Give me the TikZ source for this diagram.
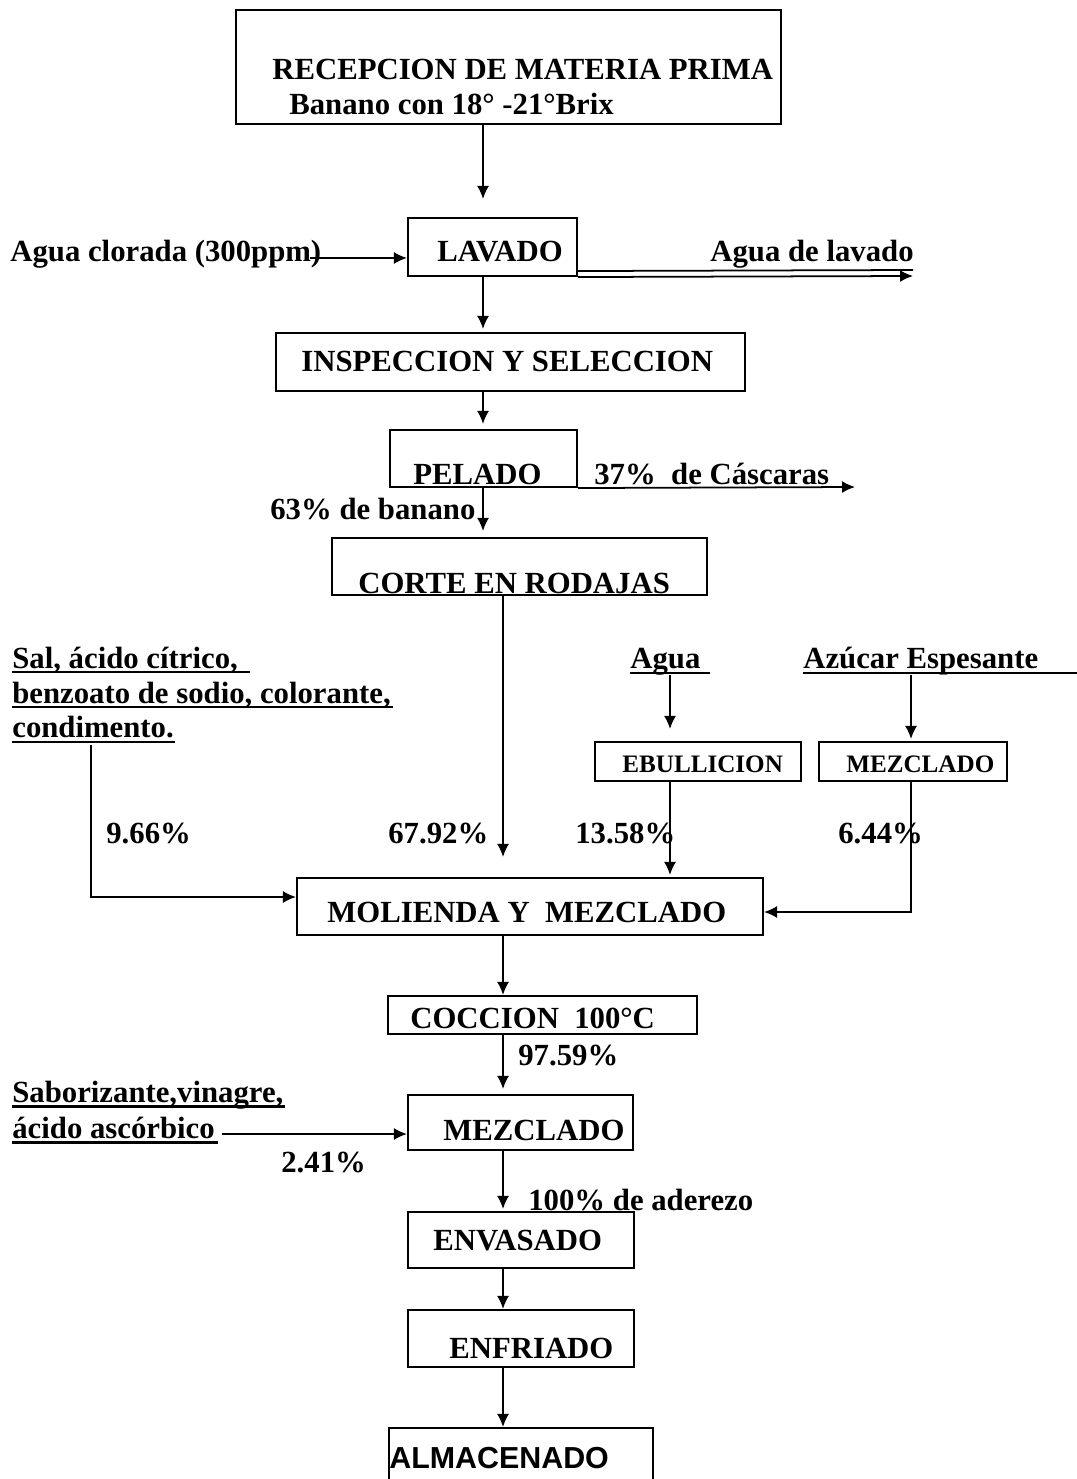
\documentclass[tikz,border=0pt]{standalone}
\usepackage{fontspec}
\setmainfont{Liberation Serif}
\newfontfamily\arialfont{Liberation Sans}
\usetikzlibrary{arrows.meta, positioning}

\tikzset{
  box/.style = {draw, line width=1.2pt, inner sep=0pt},
  txt/.style = {inner sep=0pt, anchor=base west, font=\bfseries\fontsize{17.5}{20}\selectfont},
  small/.style = {inner sep=0pt, anchor=base west, font=\bfseries\fontsize{14.3}{17}\selectfont},
  arr/.style = {-{Latex[length=2.6mm, width=2.4mm]}, line width=1pt},
  uline/.style = {line width=1.7pt},
}

\begin{document}
\begin{tikzpicture}[x=0.02cm, y=-0.02cm]
    \clip (0,0) rectangle (1077,1479);
    % columns of the flow
    \coordinate (c1) at (483,0);
    \coordinate (c2) at (503,0);
    \coordinate (c3) at (670,0);
    \coordinate (c4) at (911,0);

    % boxes
    \node[box, minimum width=10.9cm, minimum height=2.28cm]  (rec)  at (508.5,67)    {};
    \node[box, minimum width=3.38cm, minimum height=1.16cm]  (lav)  at (492.5,247)   {};
    \node[box, minimum width=9.38cm, minimum height=1.16cm]  (ins)  at (510.5,362)   {};
    \node[box, minimum width=3.74cm, minimum height=1.14cm]  (pel)  at (483.5,458.5) {};
    \node[box, minimum width=7.5cm,  minimum height=1.14cm]  (cor)  at (519.5,566.5) {};
    \node[box, minimum width=4.12cm, minimum height=0.78cm]  (ebu)  at (698,761.5)   {};
    \node[box, minimum width=3.76cm, minimum height=0.78cm]  (mezA) at (913,761.5)   {};
    \node[box, minimum width=9.32cm, minimum height=1.14cm]  (mol)  at (530,906.5)   {};
    \node[box, minimum width=6.18cm, minimum height=0.76cm]  (coc)  at (542.5,1015)  {};
    \node[box, minimum width=4.5cm,  minimum height=1.1cm]   (mezB) at (520.5,1122.5){};
    \node[box, minimum width=4.52cm, minimum height=1.12cm]  (env)  at (521,1240)    {};
    \node[box, minimum width=4.52cm, minimum height=1.14cm]  (enf)  at (521,1338.5)  {};
    \node[box, minimum width=5.28cm, minimum height=1.24cm]  (alm)  at (521,1459)    {};

    % texts
    \node[txt] (recT)  at (272,80)   {RECEPCION DE MATERIA PRIMA};
    \node[txt] (recB)  at (289,115)  {Banano con 18° -21°Brix};
    \node[txt] (agc)   at (10,262)   {Agua clorada (300ppm)};
    \node[txt] (lavT)  at (437,262)  {LAVADO};
    \node[txt] (agl)   at (710,262)  {Agua de lavado};
    \node[txt] (insT)  at (301,372)  {INSPECCION Y SELECCION};
    \node[txt] (pelT)  at (413,484)  {PELADO};
    \node[txt] (cas)   at (594,484)  {37\%\ \ de Cáscaras};
    \node[txt] (ban)   at (270,520)  {63\% de banano};
    \node[txt] (corT)  at (358,593)  {CORTE EN RODAJAS};
    \node[txt] (sal1)  at (12,668)   {Sal, ácido cítrico,};
    \node[txt] (sal2)  at (12,703)   {benzoato de sodio, colorante,};
    \node[txt] (sal3)  at (12,737)   {condimento.};
    \node[txt] (agua)  at (630,668)  {Agua};
    \node[txt] (azu)   at (803,668)  {Azúcar Espesante};
    \node[small] (ebuT) at (622,772) {EBULLICION};
    \node[small] (mezAT) at (846,772) {MEZCLADO};
    \node[txt] (p1)    at (106,843)  {9.66\%};
    \node[txt] (p2)    at (388,843)  {67.92\%};
    \node[txt] (p3)    at (575,843)  {13.58\%};
    \node[txt] (p4)    at (838,843)  {6.44\%};
    \node[txt] (molT)  at (327,922)  {MOLIENDA Y\ \ MEZCLADO};
    \node[txt] (cocT)  at (410,1028) {COCCION\ \ 100°C};
    \node[txt] (p5)    at (518,1065) {97.59\%};
    \node[txt] (sab1)  at (12,1102)  {Saborizante,vinagre,};
    \node[txt] (sab2)  at (12,1138)  {ácido ascórbico};
    \node[txt] (mezBT) at (443,1140) {MEZCLADO};
    \node[txt] (p6)    at (281,1172) {2.41\%};
    \node[txt] (ade)   at (528,1210) {100\% de aderezo};
    \node[txt] (envT)  at (433,1250) {ENVASADO};
    \node[txt] (enfT)  at (449,1358) {ENFRIADO};
    \node[txt, font=\arialfont\bfseries\fontsize{17.3}{20}\selectfont] (almT) at (389,1468) {ALMACENADO};

    % underlines
    \draw[uline] (12,672) -- (250,672);
    \draw[uline] (12,707) -- (393,707);
    \draw[uline] (12,742) -- (175,742);
    \draw[uline] (630,673) -- (710,673);
    \draw[uline] (803,673) -- (1077,673);
    \draw[uline] (12,1106) -- (285,1106);
    \draw[uline] (12,1142) -- (218,1142);

    % free ends
    \coordinate (aguaIn) at (310,258);
    \coordinate (lavOut) at (913,276);
    \coordinate (casOut) at (855,487);
    \coordinate (condIn) at (91,745);
    \coordinate (sabIn)  at (222,1134);

    % main flow
    \draw[arr, shorten >=3.6mm] (rec.south -| c1) -- (lav.north -| c1);
    \draw[arr, shorten >=0.6mm] (lav.south -| c1) -- (ins.north -| c1);
    \draw[arr, shorten >=1mm]   (ins.south -| c1) -- (pel.north -| c1);
    \draw[arr, shorten >=1.2mm] (pel.south -| c1) -- (cor.north -| c1);
    \draw[arr, shorten >=4mm]   (cor.south -| c2) -- (mol.north -| c2);
    \draw[arr] (mol.south -| c2) -- (coc.north -| c2);
    \draw[arr, shorten >=1mm] (coc.south -| c2) -- (mezB.north -| c2);
    \draw[arr, shorten >=0.4mm] (mezB.south -| c2) -- (env.north -| c2);
    \draw[arr] (env.south -| c2) -- (enf.north -| c2);
    \draw[arr] (enf.south -| c2) -- (alm.north -| c2);

    % side streams
    \draw[arr] (aguaIn) -- (aguaIn -| lav.west);
    \draw[line width=1pt] ([yshift=1.2mm]lav.south east) -- ([yshift=1.2mm]lavOut);
    \draw[arr] (lav.south east) -- (lavOut);
    \draw[arr] (pel.south east) -- (casOut);
    \draw[arr] (condIn) |- ([yshift=0.19cm]mol.west);
    \draw[arr, shorten >=2.4mm] (agua.south -| c3) -- (ebu.north -| c3);
    \draw[arr, shorten >=0.4mm] (azu.south -| c4) -- (mezA.north -| c4);
    \draw[arr, shorten >=0.4mm] (ebu.south -| c3) -- (mol.north -| c3);
    \draw[arr] (mezA.south -| c4) |- ([yshift=-0.11cm]mol.east);
    \draw[arr] (sabIn) -- (sabIn -| mezB.west);
\end{tikzpicture}
\end{document}
